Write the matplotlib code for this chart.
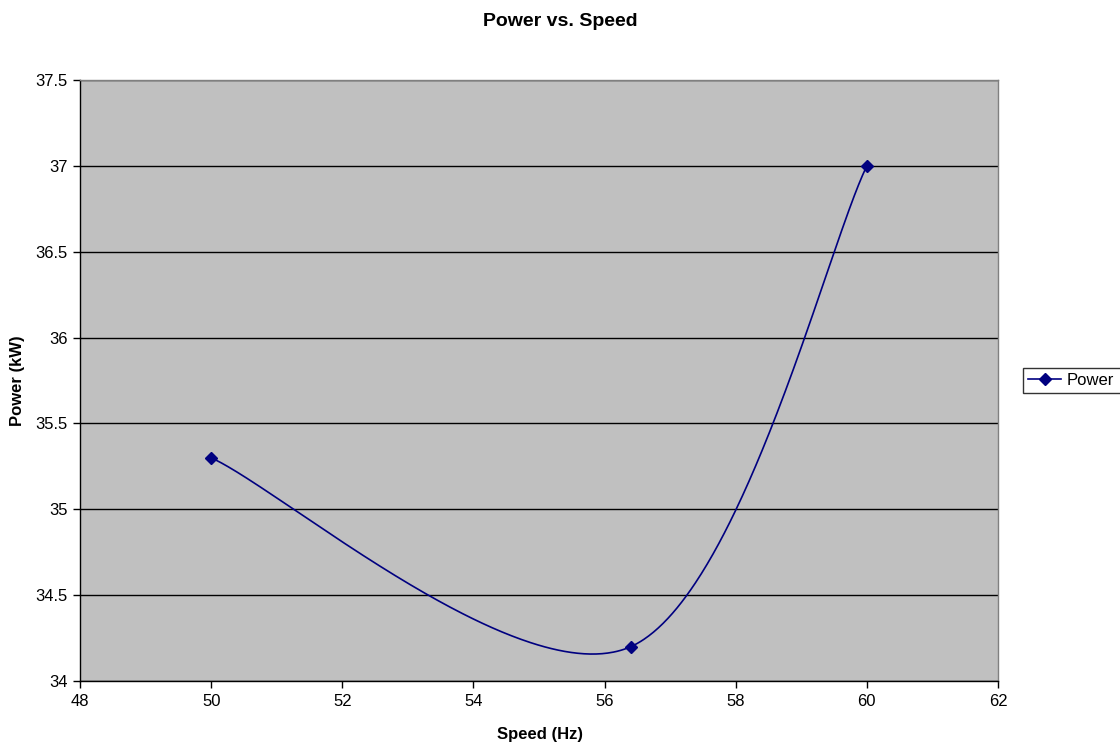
import numpy as np
import matplotlib
matplotlib.use("Agg")
import matplotlib.pyplot as plt
from matplotlib.lines import Line2D

# ---- data ----
speed_hz = [50.0, 56.4, 60.0]
power_kw = [35.3, 34.2, 37.0]
series_name = "Power"
title = "Power vs. Speed"
x_label = "Speed (Hz)"
y_label = "Power (kW)"
x_ticks = [48, 50, 52, 54, 56, 58, 60, 62]
y_ticks = [34, 34.5, 35, 35.5, 36, 36.5, 37, 37.5]

plt.rcParams['font.family'] = ['Liberation Sans', 'DejaVu Sans']


def excel_smooth(xs, ys, n=200):
    """Excel-style smoothed line: cubic Bezier segments, control points at 1/6."""
    pts = np.column_stack([xs, ys]).astype(float)
    m = len(pts)
    out = []
    for i in range(m - 1):
        p0 = pts[i - 1] if i > 0 else pts[i]
        p1 = pts[i]
        p2 = pts[i + 1]
        p3 = pts[i + 2] if i + 2 < m else pts[i + 1]
        b1 = p1 + (p2 - p0) / 6.0
        b2 = p2 - (p3 - p1) / 6.0
        t = np.linspace(0, 1, n)[:, None]
        seg = ((1 - t) ** 3) * p1 + 3 * ((1 - t) ** 2) * t * b1 + 3 * (1 - t) * t ** 2 * b2 + t ** 3 * p2
        out.append(seg if i == 0 else seg[1:])
    c = np.vstack(out)
    return c[:, 0], c[:, 1]


fig = plt.figure(figsize=(11.2, 7.44), dpi=100)
fig.patch.set_facecolor('white')
ax = fig.add_axes([80 / 1120, 1 - 681 / 744, (998 - 80) / 1120, (681 - 80) / 744])
ax.set_facecolor('#C0C0C0')

ax.set_xlim(48, 62)
ax.set_ylim(34, 37.5)
ax.set_xticks(x_ticks)
ax.set_yticks(y_ticks)
ax.set_xticklabels([f"{v:g}" for v in x_ticks])
ax.set_yticklabels([f"{v:g}" for v in y_ticks])

ax.yaxis.grid(True, color='black', linewidth=1.0)
ax.set_axisbelow(True)

for s in ['top', 'right']:
    ax.spines[s].set_color('#808080')
    ax.spines[s].set_linewidth(1.0)
for s in ['left', 'bottom']:
    ax.spines[s].set_color('black')
    ax.spines[s].set_linewidth(1.0)

ax.tick_params(axis='both', direction='out', length=5, width=1, colors='black',
               labelsize=12, pad=4)

sx, sy = excel_smooth(speed_hz, power_kw)
ax.plot(sx, sy, color='#000080', linewidth=1.2, solid_capstyle='round')
ax.plot(speed_hz, power_kw, linestyle='none', marker='D', markersize=6,
        color='#000080', markeredgecolor='#000080')

# legend (box runs past the right edge of the figure, as in the reference)
handle = Line2D([], [], color='#000080', linewidth=1.2, marker='D', markersize=6,
                markeredgecolor='#000080')
leg = fig.legend([handle], [series_name], loc='upper left', mode='expand',
                 bbox_to_anchor=(1023 / 1120, 1 - 368 / 744, 110 / 1120, 0.0),
                 fontsize=12, frameon=True, fancybox=False, shadow=False,
                 handlelength=2.0, handletextpad=0.3, borderpad=0.3,
                 borderaxespad=0.0)
leg.get_frame().set_edgecolor('black')
leg.get_frame().set_linewidth(1.0)

fig.text(560 / 1120, 1 - 22 / 744, title, ha='center', va='center',
         fontsize=14, fontweight='bold')
fig.text(540 / 1120, 1 - 735 / 744, x_label, ha='center', va='center',
         fontsize=12, fontweight='bold')
fig.text(18 / 1120, 1 - 381 / 744, y_label, ha='center', va='center',
         fontsize=12, fontweight='bold', rotation=90)

fig.savefig('out.png', dpi=100, facecolor='white')
